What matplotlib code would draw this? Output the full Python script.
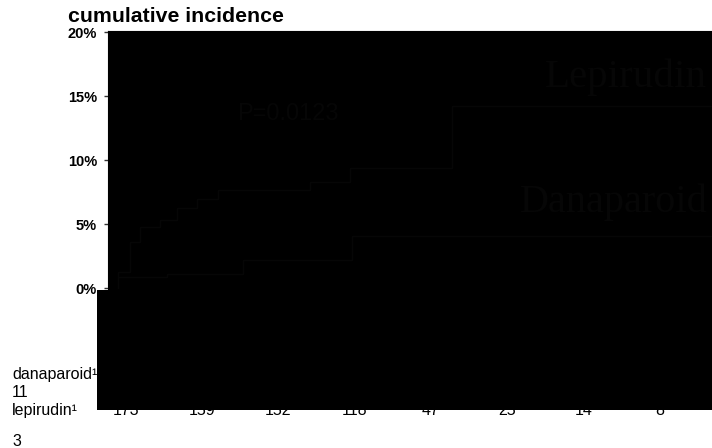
from matplotlib import pyplot as plt
from matplotlib.patches import Rectangle
from matplotlib.transforms import blended_transform_factory

# cumulative incidence (%) step curves, time in days
lep_times = [-1.0, -1.0, 0.6, 1.9, 4.5, 6.7, 9.3, 12.1, 24.1, 29.4, 42.7, 76.8]
lep_inc = [0.0, 1.25, 3.6, 4.8, 5.3, 6.25, 7.0, 7.65, 8.3, 9.4, 14.2, 14.2]
dan_times = [-1.0, -1.0, 5.4, 15.4, 29.6, 76.8]
dan_inc = [0.0, 0.9, 1.1, 2.2, 4.1, 4.1]

# number at risk
risk_times = [0, 10, 20, 30, 40, 50, 60, 70]
lep_at_risk = [173, 159, 152, 118, 47, 25, 14, 8]

yticks = [0, 5, 10, 15, 20]
ytick_labels = ['0%', '5%', '10%', '15%', '20%']

W, H = 712, 448
sans = ['Liberation Sans', 'DejaVu Sans']
serif = ['Liberation Serif', 'DejaVu Serif']
plt.rcParams['font.family'] = sans

dark = '#060606'

fig = plt.figure(figsize=(W / 100, H / 100), dpi=100)
ax = fig.add_axes([108 / W, 1 - 290 / H, (W - 108) / W, (290 - 31) / H])
ax.set_facecolor('black')
for s in ax.spines.values():
    s.set_color('black')

ax.step(lep_times, lep_inc, where='post', color=dark, lw=1.0)
ax.step(dan_times, dan_inc, where='post', color=dark, lw=1.0)

ax.set_xlim(-2.3, 76.8)
ax.set_ylim(-0.13, 20.08)
ax.set_xticks([])
ax.set_yticks(yticks)
ax.set_yticklabels(ytick_labels, fontsize=10.5, fontweight='bold')
ax.tick_params(axis='y', length=3, width=1, color='#333333', pad=5)

ax.text(54.9, 15.7, 'Lepirudin', family=serif, fontsize=29.5, color=dark,
        ha='left', va='baseline')
ax.text(51.6, 5.95, 'Danaparoid', family=serif, fontsize=29, color=dark,
        ha='left', va='baseline')
ax.text(14.6, 13.1, 'P=0.0123', fontsize=17, color=dark,
        ha='left', va='baseline')

fig.text(68 / W, 1 - 7 / H, 'cumulative incidence', fontsize=15.3,
         fontweight='bold', va='top', ha='left')

# risk table
tr = blended_transform_factory(ax.transData, fig.transFigure)
for t, n in zip(risk_times, lep_at_risk):
    ax.text(t, 1 - 415 / H, str(n), transform=tr, fontsize=11.5,
            ha='center', va='baseline', clip_on=False)

fig.text(12 / W, 1 - 379 / H, 'danaparoid\u00b9', fontsize=11.5, va='baseline')
fig.text(12 / W, 1 - 397 / H, '11', fontsize=11.5, va='baseline')
fig.text(12 / W, 1 - 415 / H, 'lepirudin\u00b9', fontsize=11.5, va='baseline')
fig.text(12 / W, 1 - 446 / H, '3', fontsize=11.5, va='baseline')

fig.patches.append(Rectangle((97 / W, 1 - 410 / H), (W - 97) / W, 120 / H,
                             transform=fig.transFigure, facecolor='black',
                             edgecolor='none', zorder=10))

fig.savefig('out.png', dpi=100)
